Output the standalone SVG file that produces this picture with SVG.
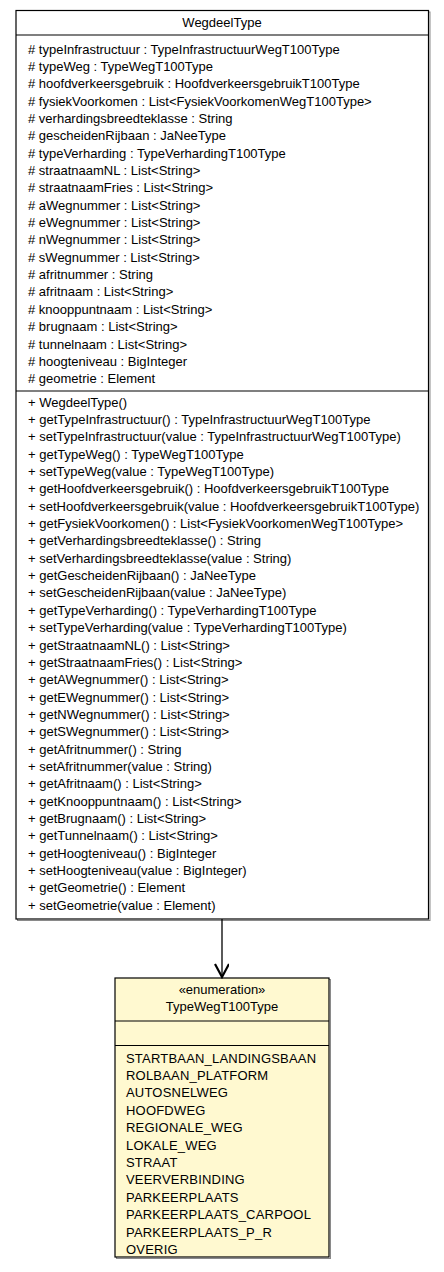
<svg xmlns="http://www.w3.org/2000/svg" width="444" height="1272" viewBox="0 0 444 1272">
  <defs>
    <style>
      .box { fill: #ffffff; stroke: #000000; stroke-width: 1.2; }
      .enum { fill: #fff9d0; stroke: #000000; stroke-width: 1.2; }
      .shadow { fill: none; stroke: #8a8a8a; stroke-width: 1; }
      .sep { stroke: #000000; stroke-width: 1.2; }
      text { font-family: "Liberation Sans", Arial, sans-serif; font-size: 13px; fill: #000000; }
      .c { text-anchor: middle; }
      .lit { letter-spacing: 0.2px; }
      .edge { stroke: #000000; stroke-width: 1.3; fill: none; }
    </style>
    <marker id="open" markerWidth="16" markerHeight="16" refX="14" refY="7" orient="auto" markerUnits="userSpaceOnUse">
      <path d="M1,0 L14,7 L1,14" fill="none" stroke="#000000" stroke-width="2.2"/>
    </marker>
  </defs>

  <g id="WegdeelType">
    <rect class="shadow" x="17.5" y="12" width="412.5" height="908.5"/>
    <rect class="box" x="16" y="10.5" width="412.5" height="908.5"/>
    <line class="sep" x1="16" y1="35" x2="428.5" y2="35"/>
    <line class="sep" x1="16" y1="391" x2="428.5" y2="391"/>
    <text class="c" x="222" y="27">WegdeelType</text>
    <text x="28" y="53.5"># typeInfrastructuur : TypeInfrastructuurWegT100Type</text>
    <text x="28" y="70.9"># typeWeg : TypeWegT100Type</text>
    <text x="28" y="88.2"># hoofdverkeersgebruik : HoofdverkeersgebruikT100Type</text>
    <text x="28" y="105.6"># fysiekVoorkomen : List&lt;FysiekVoorkomenWegT100Type&gt;</text>
    <text x="28" y="122.9"># verhardingsbreedteklasse : String</text>
    <text x="28" y="140.3"># gescheidenRijbaan : JaNeeType</text>
    <text x="28" y="157.6"># typeVerharding : TypeVerhardingT100Type</text>
    <text x="28" y="175.0"># straatnaamNL : List&lt;String&gt;</text>
    <text x="28" y="192.3"># straatnaamFries : List&lt;String&gt;</text>
    <text x="28" y="209.7"># aWegnummer : List&lt;String&gt;</text>
    <text x="28" y="227.0"># eWegnummer : List&lt;String&gt;</text>
    <text x="28" y="244.4"># nWegnummer : List&lt;String&gt;</text>
    <text x="28" y="261.7"># sWegnummer : List&lt;String&gt;</text>
    <text x="28" y="279.1"># afritnummer : String</text>
    <text x="28" y="296.4"># afritnaam : List&lt;String&gt;</text>
    <text x="28" y="313.8"># knooppuntnaam : List&lt;String&gt;</text>
    <text x="28" y="331.1"># brugnaam : List&lt;String&gt;</text>
    <text x="28" y="348.5"># tunnelnaam : List&lt;String&gt;</text>
    <text x="28" y="365.8"># hoogteniveau : BigInteger</text>
    <text x="28" y="383.2"># geometrie : Element</text>
    <text x="28" y="406.5">+ WegdeelType()</text>
    <text x="28" y="423.9">+ getTypeInfrastructuur() : TypeInfrastructuurWegT100Type</text>
    <text x="28" y="441.2">+ setTypeInfrastructuur(value : TypeInfrastructuurWegT100Type)</text>
    <text x="28" y="458.6">+ getTypeWeg() : TypeWegT100Type</text>
    <text x="28" y="475.9">+ setTypeWeg(value : TypeWegT100Type)</text>
    <text x="28" y="493.3">+ getHoofdverkeersgebruik() : HoofdverkeersgebruikT100Type</text>
    <text x="28" y="510.6">+ setHoofdverkeersgebruik(value : HoofdverkeersgebruikT100Type)</text>
    <text x="28" y="528.0">+ getFysiekVoorkomen() : List&lt;FysiekVoorkomenWegT100Type&gt;</text>
    <text x="28" y="545.4">+ getVerhardingsbreedteklasse() : String</text>
    <text x="28" y="562.7">+ setVerhardingsbreedteklasse(value : String)</text>
    <text x="28" y="580.1">+ getGescheidenRijbaan() : JaNeeType</text>
    <text x="28" y="597.4">+ setGescheidenRijbaan(value : JaNeeType)</text>
    <text x="28" y="614.8">+ getTypeVerharding() : TypeVerhardingT100Type</text>
    <text x="28" y="632.1">+ setTypeVerharding(value : TypeVerhardingT100Type)</text>
    <text x="28" y="649.5">+ getStraatnaamNL() : List&lt;String&gt;</text>
    <text x="28" y="666.8">+ getStraatnaamFries() : List&lt;String&gt;</text>
    <text x="28" y="684.2">+ getAWegnummer() : List&lt;String&gt;</text>
    <text x="28" y="701.5">+ getEWegnummer() : List&lt;String&gt;</text>
    <text x="28" y="718.9">+ getNWegnummer() : List&lt;String&gt;</text>
    <text x="28" y="736.2">+ getSWegnummer() : List&lt;String&gt;</text>
    <text x="28" y="753.6">+ getAfritnummer() : String</text>
    <text x="28" y="770.9">+ setAfritnummer(value : String)</text>
    <text x="28" y="788.3">+ getAfritnaam() : List&lt;String&gt;</text>
    <text x="28" y="805.6">+ getKnooppuntnaam() : List&lt;String&gt;</text>
    <text x="28" y="823.0">+ getBrugnaam() : List&lt;String&gt;</text>
    <text x="28" y="840.3">+ getTunnelnaam() : List&lt;String&gt;</text>
    <text x="28" y="857.7">+ getHoogteniveau() : BigInteger</text>
    <text x="28" y="875.0">+ setHoogteniveau(value : BigInteger)</text>
    <text x="28" y="892.4">+ getGeometrie() : Element</text>
    <text x="28" y="909.7">+ setGeometrie(value : Element)</text>
  </g>

  <g id="TypeWegT100Type">
    <rect class="shadow" x="116.5" y="979.5" width="214" height="279"/>
    <rect class="enum" x="115" y="978" width="214" height="279"/>
    <line class="sep" x1="115" y1="1021" x2="329" y2="1021"/>
    <line class="sep" x1="115" y1="1045.5" x2="329" y2="1045.5"/>
    <text class="c" x="222" y="994">«enumeration»</text>
    <text class="c" x="222" y="1011">TypeWegT100Type</text>
    <text class="lit" x="126" y="1062.5">STARTBAAN_LANDINGSBAAN</text>
    <text class="lit" x="126" y="1079.9">ROLBAAN_PLATFORM</text>
    <text class="lit" x="126" y="1097.3">AUTOSNELWEG</text>
    <text class="lit" x="126" y="1114.7">HOOFDWEG</text>
    <text class="lit" x="126" y="1132.1">REGIONALE_WEG</text>
    <text class="lit" x="126" y="1149.5">LOKALE_WEG</text>
    <text class="lit" x="126" y="1166.9">STRAAT</text>
    <text class="lit" x="126" y="1184.3">VEERVERBINDING</text>
    <text class="lit" x="126" y="1201.7">PARKEERPLAATS</text>
    <text class="lit" x="126" y="1219.1">PARKEERPLAATS_CARPOOL</text>
    <text class="lit" x="126" y="1236.5">PARKEERPLAATS_P_R</text>
    <text class="lit" x="126" y="1253.9">OVERIG</text>
  </g>

  <g id="connectors">
    <line class="edge" x1="222" y1="919" x2="222" y2="977" marker-end="url(#open)"/>
  </g>
</svg>
